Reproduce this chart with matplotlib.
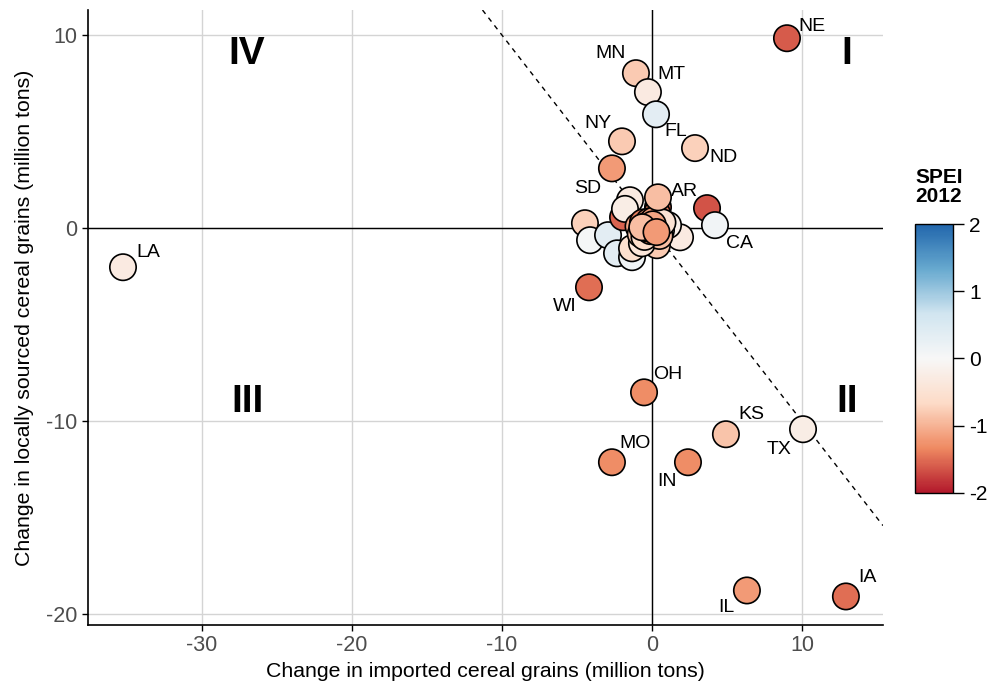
import numpy as np
import matplotlib.pyplot as plt
from matplotlib.colors import LinearSegmentedColormap, Normalize

plt.rcParams['font.family'] = ['Liberation Sans', 'DejaVu Sans']
plt.rcParams['axes.unicode_minus'] = False

# labelled states
states = ['NE', 'MN', 'MT', 'FL', 'NY', 'ND', 'SD', 'AR', 'CA', 'LA',
          'WI', 'OH', 'KS', 'TX', 'MO', 'IN', 'IL', 'IA']
imported = [9.0, -1.07, -0.27, 0.27, -2.0, 2.87, -2.67, 0.4, 4.2, -35.27,
            -4.2, -0.53, 4.93, 10.07, -2.67, 2.4, 6.33, 12.93]
local = [9.84, 8.03, 7.05, 5.9, 4.5, 4.15, 3.1, 1.6, 0.16, -2.02,
         -3.06, -8.5, -10.67, -10.41, -12.12, -12.12, -18.76, -19.07]
spei = [-1.6, -0.8, -0.3, 0.35, -0.8, -0.75, -1.2, -0.9, 0.1, -0.3,
        -1.5, -1.3, -0.85, -0.25, -1.3, -1.3, -1.2, -1.5]

# unlabelled states clustered near the origin
imp_other = [-4.47, -4.13, -2.93, -2.33, -1.33, -1.33, -1.47, -1.93, -1.8, 0.4,
             0.33, 1.87, 1.07, 0.33, -0.67, 3.67,
             -0.9, -0.6, -0.4, -0.2, 0.0, 0.2, 0.45, 0.6, -0.75, -0.3,
             0.1, 0.5, -0.5, 0.25, -0.1, 0.7, -0.35, 0.05, -0.65, 0.3]
loc_other = [0.26, -0.62, -0.36, -1.3, -1.5, -1.04, 1.45, 0.57, 1.0, 1.09,
             0.78, -0.47, 0.16, -0.88, -0.78, 1.04,
             0.1, 0.3, -0.2, 0.35, 0.0, -0.3, 0.2, -0.1, -0.3, 0.15,
             0.4, -0.4, -0.45, 0.1, -0.15, 0.3, 0.0, 0.2, 0.05, -0.2]
spei_other = [-0.75, 0.05, 0.35, 0.35, 0.15, -0.55, -0.3, -1.55, -0.25, -1.5,
              -1.4, -0.3, -0.2, -0.8, -0.4, -1.65,
              -1.1, -1.4, -0.9, -1.2, -0.7, -1.0, -0.6, -0.4, -0.8, -1.3,
              -1.2, -0.9, -0.6, -1.0, -1.3, -0.5, -1.5, -1.1, -0.9, -1.2]

# label offsets in pixels (ggrepel-like placement)
label_off = [(25, 12), (-25, 20), (24, 18), (20, -17), (-24, 18), (28, -9),
             (-24, -20), (27, 6), (25, -18), (25, 15), (-24, -19), (24, 18),
             (25, 20), (-24, -20), (23, 19), (-21, -19), (-21, -17), (22, 19)]

cmap = LinearSegmentedColormap.from_list(
    'rdbu7', ['#b2182b', '#ef8a62', '#fddbc7', '#f7f7f7', '#d1e5f0', '#67a9cf', '#2166ac'])
norm = Normalize(-2, 2)

fig = plt.figure(figsize=(9.96, 6.92), dpi=100)
ax = fig.add_axes([0.0884, 0.0968, 0.7981, 0.8887])

ax.set_xlim(-37.6, 15.4)
ax.set_ylim(-20.55, 11.3)
ax.set_xticks([-30, -20, -10, 0, 10])
ax.set_yticks([-20, -10, 0, 10])
ax.grid(True, color='#d4d4d4', lw=1)
ax.set_axisbelow(True)
for s in ['top', 'right']:
    ax.spines[s].set_visible(False)
for s in ['left', 'bottom']:
    ax.spines[s].set_linewidth(1.2)
ax.tick_params(length=4, width=1, color='black', labelcolor='#4d4d4d', labelsize=15.5)

ax.axhline(0, color='black', lw=1, zorder=1)
ax.axvline(0, color='black', lw=1, zorder=1)
ax.axline((0, 0), slope=-1, color='black', lw=1, ls=(0, (3.5, 3.5)), zorder=1)

ax.scatter(imp_other, loc_other, c=spei_other, cmap=cmap, norm=norm, s=360,
           edgecolors='black', linewidths=1.2, zorder=3)
sc = ax.scatter(imported, local, c=spei, cmap=cmap, norm=norm, s=360,
                edgecolors='black', linewidths=1.2, zorder=3)

for st, x, y, off in zip(states, imported, local, label_off):
    ax.annotate(st, (x, y), xytext=off, textcoords='offset pixels',
                ha='center', va='center', fontsize=14, color='black', zorder=4)

for txt, x, y in [('IV', -27, 9), ('I', 13, 9), ('III', -27, -9), ('II', 13, -9)]:
    ax.text(x, y, txt, fontsize=28, fontweight='bold', ha='center', va='center')

ax.set_xlabel('Change in imported cereal grains (million tons)', fontsize=15.3, labelpad=4)
ax.set_ylabel('Change in locally sourced cereal grains (million tons)', fontsize=15.3, labelpad=9)

cax = fig.add_axes([0.9187, 0.2876, 0.0382, 0.3887])
cb = fig.colorbar(sc, cax=cax, ticks=[-2, -1, 0, 1, 2])
cb.outline.set_linewidth(1)
cax.tick_params(length=8, width=1, labelsize=15, labelcolor='black')
cax.set_yticklabels(['-2', '-1', '0', '1', '2'])
fig.text(0.9187, 0.703, 'SPEI\n2012', fontsize=15, fontweight='bold', ha='left', va='bottom',
         linespacing=0.95)

fig.savefig('out.png', dpi=100)
